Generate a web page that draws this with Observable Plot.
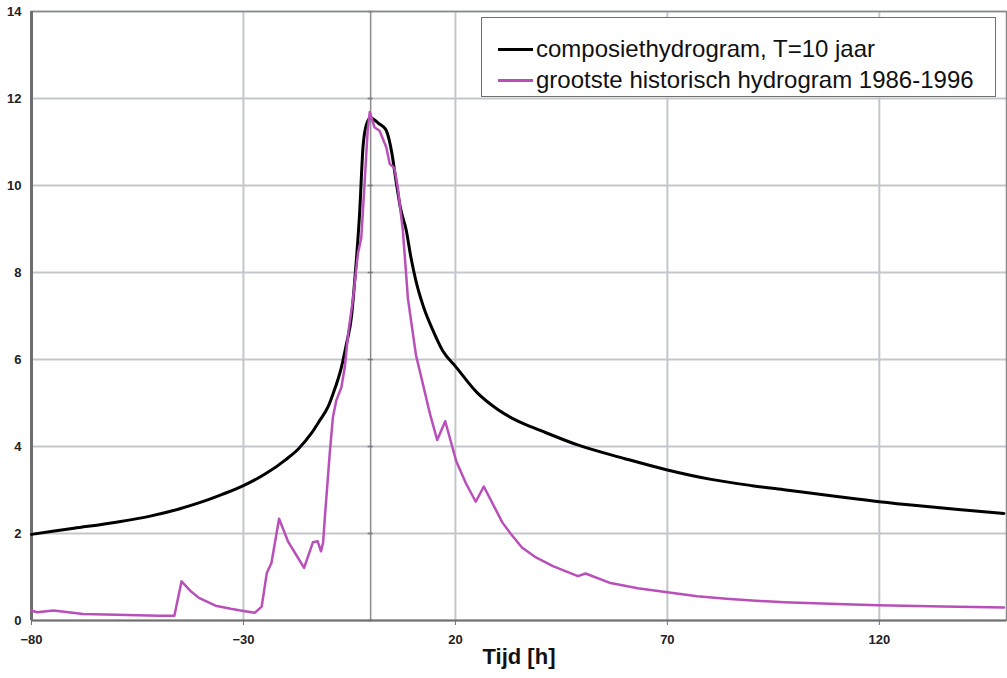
<!DOCTYPE html>
<html><head><meta charset="utf-8">
<script src="https://cdn.jsdelivr.net/npm/d3@7"></script>
<script src="https://cdn.jsdelivr.net/npm/@observablehq/plot@0.6"></script>
<style>
body{margin:0;background:#fff;font-family:"Liberation Sans",Arial,sans-serif;}
#wrap{position:relative;width:1007px;height:678px;}
#wrap svg{display:block;}
#legend{position:absolute;left:481px;top:17px;width:513px;height:78px;border:1.5px solid #707070;background:#fff;}
.row{position:absolute;left:16px;height:30px;display:flex;align-items:center;font-size:24px;color:#111;white-space:nowrap;}
.sw{width:35px;height:3px;margin-right:3px;}
</style></head>
<body><div id="wrap"><div id="legend"></div></div>
<script>
const xTicks = [-80, -30, 20, 70, 120];
const yTicks = [0, 2, 4, 6, 8, 10, 12, 14];
const seriesNames = ["composiethydrogram, T=10 jaar", "grootste historisch hydrogram 1986-1996"];
const seriesColors = ["#000000", "#b94fb9"];
const axisTitle = "Tijd [h]";

// composiethydrogram T=10 jaar
const compT = [-80, -70, -60, -52, -45, -40, -35, -30, -25, -20, -17, -14, -12, -10, -8.9, -6.9, -5.7, -4.5, -3.6, -2.6, -1.8, -1, 0, 1, 2, 3, 3.7, 5, 6, 7, 8.4, 9.5, 10.7, 12.5, 14.7, 17, 20.2, 25, 30, 35, 40, 49, 60, 70, 80, 90, 98, 110, 120, 130, 140, 149.4];
const compQ = [1.98, 2.12, 2.26, 2.4, 2.57, 2.72, 2.9, 3.1, 3.36, 3.7, 3.95, 4.3, 4.6, 4.92, 5.2, 5.82, 6.36, 7.0, 8.0, 9.36, 10.88, 11.4, 11.56, 11.5, 11.42, 11.35, 11.26, 10.75, 10.1, 9.5, 8.97, 8.35, 7.8, 7.2, 6.67, 6.2, 5.82, 5.25, 4.85, 4.57, 4.37, 4.03, 3.72, 3.46, 3.25, 3.1, 3.0, 2.85, 2.73, 2.63, 2.54, 2.46];

// grootste historisch hydrogram 1986-1996
const histT = [-80, -78.7, -74.8, -67.8, -60, -50, -46.3, -44.6, -42.5, -40.5, -36.6, -33, -30, -27.3, -25.7, -24.5, -23.4, -21.6, -19.5, -17.5, -15.7, -13.6, -12.5, -11.7, -11.2, -10.8, -9.6, -8.9, -8.1, -6.9, -6.1, -5.3, -4.2, -3, -2.2, -1.4, -0.7, -0.2, 0.9, 2.1, 3.7, 4.5, 5.6, 6.4, 7.6, 8.8, 10.7, 12.3, 14, 15.7, 17.6, 20.2, 22.5, 24.8, 26.7, 29.6, 31.1, 33, 35.7, 39, 43, 48.9, 50.7, 56.6, 63, 70, 77, 83.9, 90, 97.6, 110, 119.7, 135, 149.4];
const histQ = [0.23, 0.19, 0.23, 0.15, 0.13, 0.11, 0.11, 0.9, 0.68, 0.52, 0.34, 0.27, 0.22, 0.18, 0.32, 1.09, 1.32, 2.34, 1.82, 1.5, 1.21, 1.8, 1.82, 1.59, 1.8, 2.37, 3.9, 4.67, 5.06, 5.36, 5.82, 6.6, 7.36, 8.43, 8.8, 10.1, 11.26, 11.69, 11.34, 11.26, 10.88, 10.5, 10.4, 9.96, 8.97, 7.4, 6.1, 5.45, 4.75, 4.15, 4.58, 3.66, 3.15, 2.73, 3.08, 2.53, 2.25, 2.0, 1.68, 1.45, 1.25, 1.02, 1.08, 0.86, 0.74, 0.65, 0.56, 0.5, 0.46, 0.42, 0.38, 0.35, 0.32, 0.3];

const comp = compT.map((t, i) => ({t, q: compQ[i]}));
const hist = histT.map((t, i) => ({t, q: histQ[i]}));

const gridColor = "#c3c7cc";
const frameColor = "#6e6e6e";

const chart = Plot.plot({
  width: 1007, height: 678,
  marginLeft: 31, marginRight: 1, marginTop: 11, marginBottom: 58,
  x: {domain: [-80, 150]},
  y: {domain: [0, 14]},
  style: {fontFamily: "'Liberation Sans', Arial, sans-serif", background: "#fff", color: "#222"},
  marks: [
    Plot.gridX(xTicks.slice(1), {stroke: gridColor, strokeOpacity: 1, strokeWidth: 2}),
    Plot.gridY(yTicks.slice(1), {stroke: gridColor, strokeOpacity: 1, strokeWidth: 2}),
    Plot.ruleX([0], {stroke: "#8a8a8a", strokeWidth: 1.5}),
    Plot.ruleY(yTicks, {x1: -0.6, x2: 0.6, stroke: "#777", strokeWidth: 1.5}),
    Plot.axisX(xTicks, {tickSize: 5, tickPadding: 9, label: null, fontSize: 13, fontWeight: "bold", stroke: frameColor}),
    Plot.axisY(yTicks, {tickSize: 0, tickPadding: 10, label: null, fontSize: 13, fontWeight: "bold"}),
    Plot.frame({stroke: "#8a8a8a", strokeWidth: 1.5}),
    Plot.ruleX([-80], {stroke: frameColor, strokeWidth: 3}),
    Plot.ruleY([0], {stroke: frameColor, strokeWidth: 2}),
    Plot.line(comp, {x: "t", y: "q", stroke: seriesColors[0], strokeWidth: 3, curve: "monotone-x"}),
    Plot.line(hist, {x: "t", y: "q", stroke: seriesColors[1], strokeWidth: 2.5, strokeLinejoin: "round"}),
    Plot.text([axisTitle], {frameAnchor: "bottom", dy: 43, fontSize: 22, fontWeight: "bold", fill: "#111"})
  ]
});
document.getElementById("wrap").prepend(chart);

const legend = document.getElementById("legend");
seriesNames.forEach((name, i) => {
  const row = document.createElement("div");
  row.className = "row";
  row.style.top = (i === 0 ? 16 : 47) + "px";
  const sw = document.createElement("span");
  sw.className = "sw";
  sw.style.background = seriesColors[i];
  const tx = document.createElement("span");
  tx.textContent = name;
  row.appendChild(sw);
  row.appendChild(tx);
  legend.appendChild(row);
});
</script>
</body></html>
